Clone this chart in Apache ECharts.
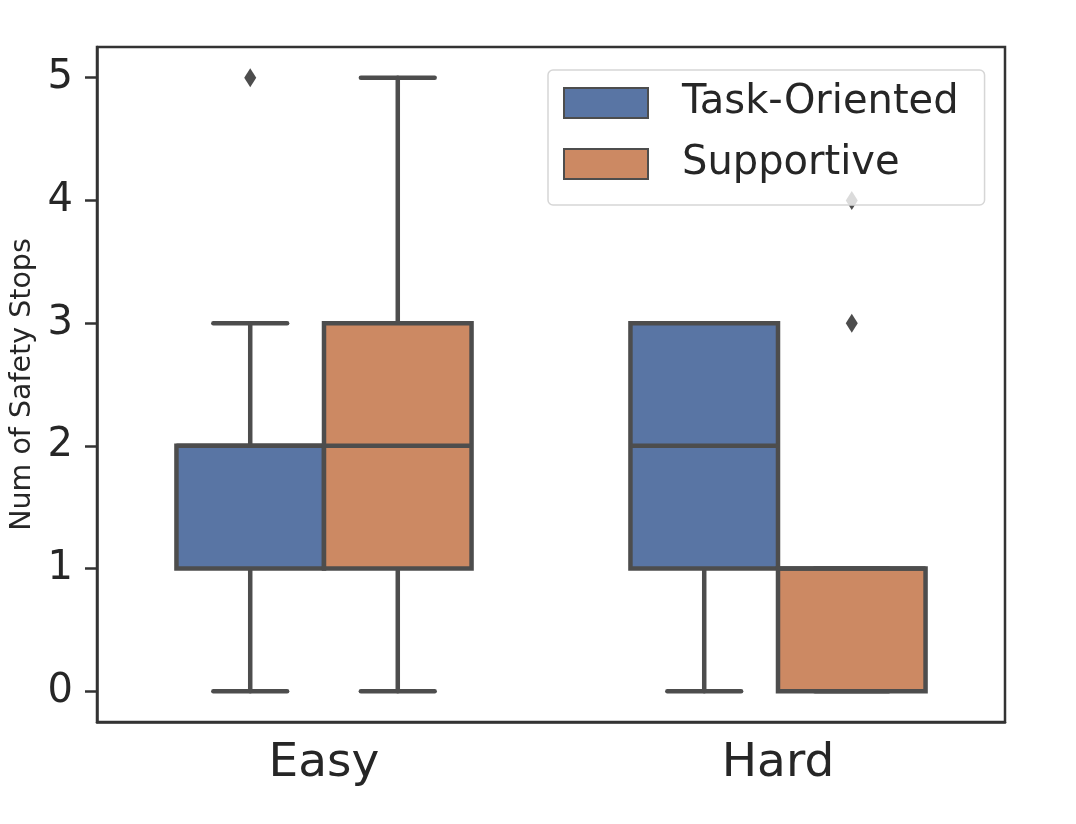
<!DOCTYPE html>
<html lang="en">
<head>
  <meta charset="UTF-8">
  <script src="https://cdn.jsdelivr.net/npm/echarts@6/dist/echarts.min.js"></script>
  <style>
    html, body { margin: 0; padding: 0; background: #fff; }
    #chart { width: 1076px; height: 824px; }
  </style>
</head>
<body>
  <div id="chart"></div>
  <script>
    const categories = ['Easy', 'Hard'];
    const groups = ['Task-Oriented', 'Supportive'];
    // [min, Q1, median, Q3, max] for each category
    const taskOrientedBoxes = [[0, 1, 2, 2, 3], [0, 1, 2, 3, 3]];
    const supportiveBoxes = [[0, 1, 2, 3, 5], [0, 0, 1, 1, 1]];
    // [category index, value]
    const taskOrientedOutliers = [[0, 5]];
    const supportiveOutliers = [[1, 3], [1, 4]];
    const yTicks = [0, 1, 2, 3, 4, 5];

    const colors = ['#5975a4', '#cc8963'];
    const edge = '#4d4d4d';
    const frame = '#333333';
    const textColor = '#262626';
    const font = 'DejaVu Sans';
    const boxFrac = 0.325;

    // draw one box (side -1 = left hue, +1 = right hue)
    function boxItem(side, color) {
      return function (params, api) {
        const cat = api.value(0);
        const w = api.size([1, 0])[0] * boxFrac;
        const cx = api.coord([cat, 0])[0] + side * w / 2;
        const y = i => api.coord([cat, api.value(i)])[1];
        const lo = y(1), q1 = y(2), med = y(3), q3 = y(4), hi = y(5);
        const line = { stroke: edge, lineWidth: 4.5, lineCap: 'round' };
        return {
          type: 'group',
          children: [
            { type: 'line', shape: { x1: cx, y1: q1, x2: cx, y2: lo }, style: line },
            { type: 'line', shape: { x1: cx, y1: q3, x2: cx, y2: hi }, style: line },
            { type: 'line', shape: { x1: cx - w / 4, y1: lo, x2: cx + w / 4, y2: lo }, style: line },
            { type: 'line', shape: { x1: cx - w / 4, y1: hi, x2: cx + w / 4, y2: hi }, style: line },
            { type: 'rect', shape: { x: cx - w / 2, y: q3, width: w, height: q1 - q3 },
              style: { fill: color, stroke: edge, lineWidth: 4.5 } },
            { type: 'line', shape: { x1: cx - w / 2, y1: med, x2: cx + w / 2, y2: med },
              style: { stroke: edge, lineWidth: 4.5 } }
          ]
        };
      };
    }

    // outlier diamonds
    function outlierItem(side) {
      return function (params, api) {
        const cat = api.value(0);
        const w = api.size([1, 0])[0] * boxFrac;
        const p = api.coord([cat, api.value(1)]);
        const cx = p[0] + side * w / 2, cy = p[1];
        return {
          type: 'polygon',
          shape: { points: [[cx, cy - 9.5], [cx + 6, cy], [cx, cy + 9.5], [cx - 6, cy]] },
          style: { fill: edge }
        };
      };
    }

    var chart = echarts.init(document.getElementById('chart'));
    let option = {
      animation: false,
      textStyle: { fontFamily: font },
      grid: {
        left: 97, right: 71, top: 47, bottom: 102,
        show: true, borderColor: frame, borderWidth: 2.5,
        outerBoundsMode: 'none'
      },
      legend: {
        data: groups.map((g, i) => ({
          name: g,
          itemStyle: { color: colors[i], borderColor: edge, borderWidth: 2 }
        })),
        orient: 'vertical',
        left: 548, top: 70,
        icon: 'rect',
        itemWidth: 84, itemHeight: 30, itemGap: 21,
        padding: [13, 26, 21, 15],
        backgroundColor: 'rgba(255,255,255,0.8)',
        borderColor: '#d6d6d6', borderWidth: 1.5, borderRadius: 5,
        selectedMode: false,
        z: 10,
        textStyle: { fontSize: 40, lineHeight: 40, color: textColor, fontFamily: font, padding: [0, 0, 0, 29] }
      },
      xAxis: {
        type: 'category',
        data: categories,
        axisLine: { onZero: false, lineStyle: { color: frame, width: 2.5 } },
        axisTick: { alignWithLabel: true, length: 12, lineStyle: { color: frame, width: 2.5 } },
        axisLabel: { fontSize: 47, color: textColor, margin: 18, fontFamily: font }
      },
      yAxis: {
        type: 'value',
        min: -0.25, max: 5.25,
        name: 'Num of Safety Stops',
        nameLocation: 'middle', nameRotate: 90, nameGap: 52,
        nameTextStyle: { fontSize: 28.5, color: textColor, fontFamily: font },
        axisLine: { show: true, lineStyle: { color: frame, width: 2.5 } },
        axisTick: { show: true, length: 12, customValues: yTicks, lineStyle: { color: frame, width: 2.5 } },
        axisLabel: { customValues: yTicks, fontSize: 40, color: textColor, margin: 24, fontFamily: font },
        splitLine: { show: false }
      },
      series: [
        {
          name: groups[0], type: 'custom',
          itemStyle: { color: colors[0], borderColor: edge },
          encode: { x: 0, y: [1, 2, 3, 4, 5] },
          data: categories.map((c, i) => [i].concat(taskOrientedBoxes[i])),
          renderItem: boxItem(-1, colors[0])
        },
        {
          name: groups[1], type: 'custom',
          itemStyle: { color: colors[1], borderColor: edge },
          encode: { x: 0, y: [1, 2, 3, 4, 5] },
          data: categories.map((c, i) => [i].concat(supportiveBoxes[i])),
          renderItem: boxItem(1, colors[1])
        },
        {
          name: groups[0], type: 'custom',
          itemStyle: { color: colors[0] },
          encode: { x: 0, y: 1 },
          data: taskOrientedOutliers,
          renderItem: outlierItem(-1)
        },
        {
          name: groups[1], type: 'custom',
          itemStyle: { color: colors[1] },
          encode: { x: 0, y: 1 },
          data: supportiveOutliers,
          renderItem: outlierItem(1)
        }
      ]
    };
    chart.setOption(option);
  </script>
</body>
</html>
